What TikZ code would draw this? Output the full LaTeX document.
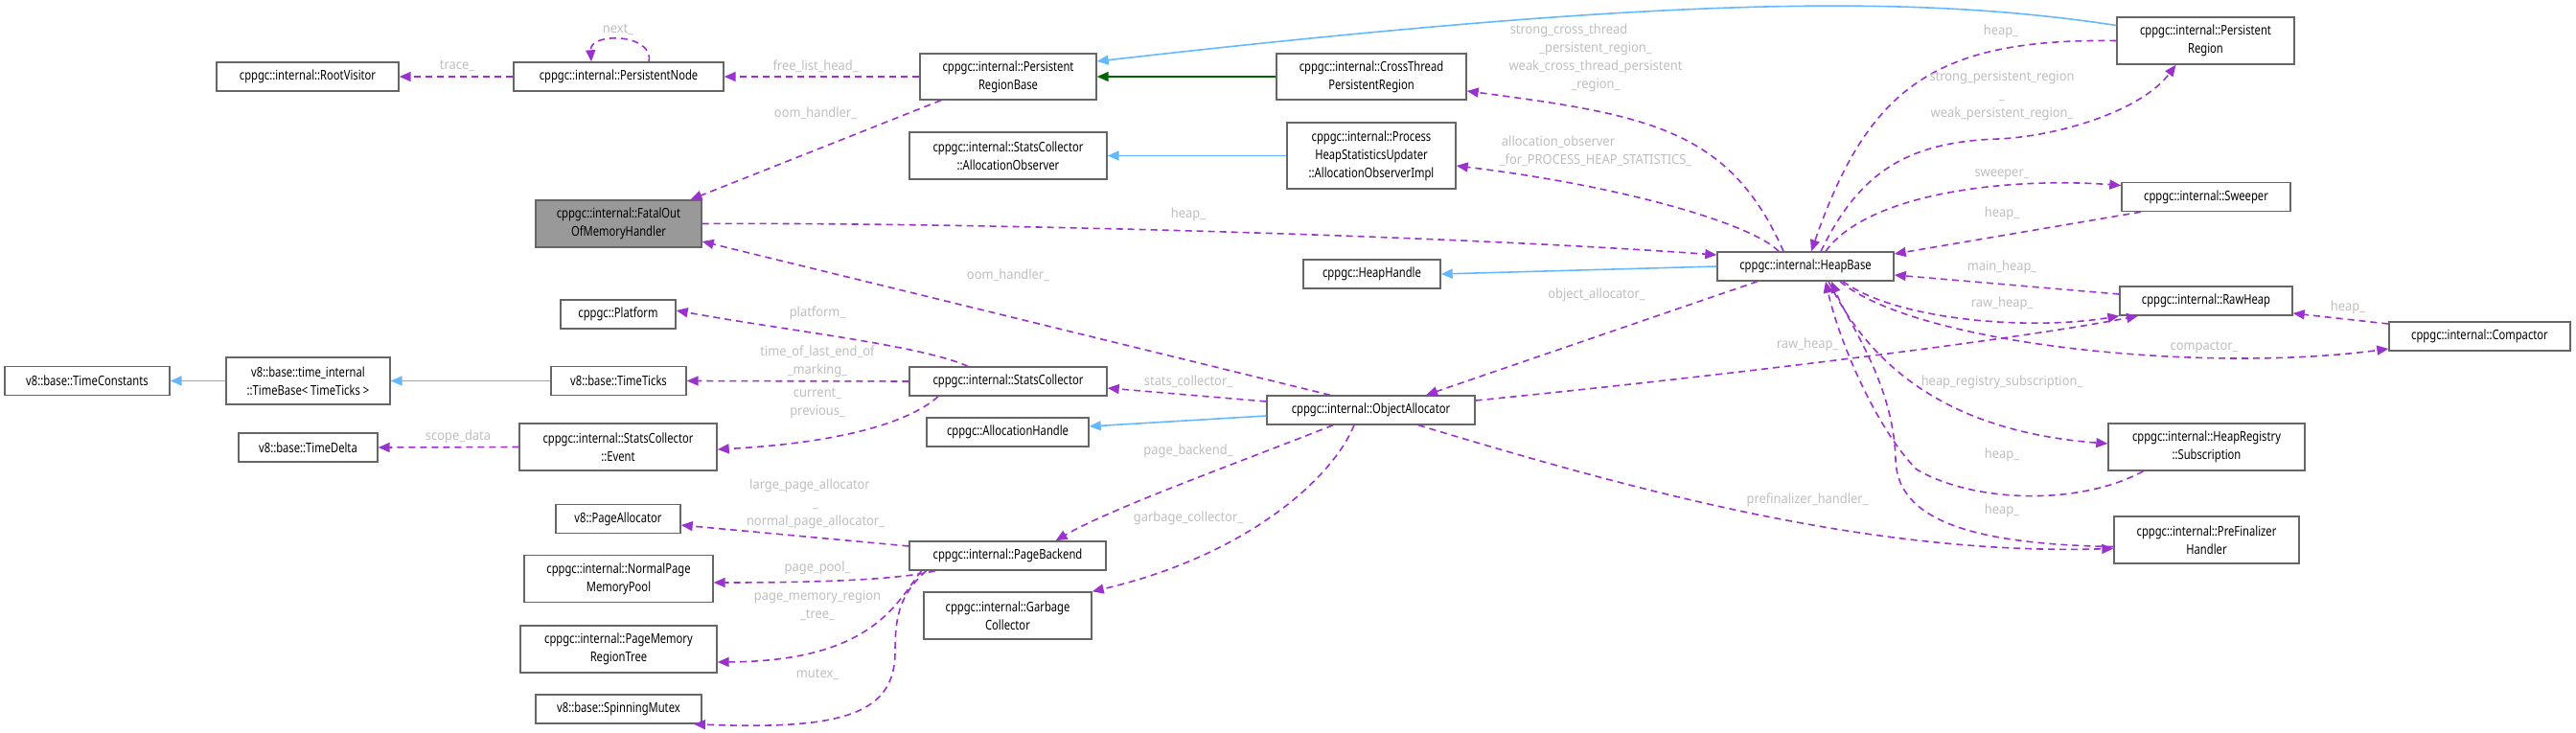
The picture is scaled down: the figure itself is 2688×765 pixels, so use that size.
\documentclass[tikz,border=0pt]{standalone}
\usepackage{fontspec}
\setmainfont{Noto Sans}[FakeStretch=0.8]
\newfontfamily\lblfont{Noto Sans}[FakeStretch=0.92]
\usetikzlibrary{arrows.meta,calc}
\definecolor{edgepurple}{HTML}{9A32CD}
\definecolor{edgeblue}{HTML}{63B8FF}
\definecolor{edgegreen}{HTML}{006400}
\definecolor{labelgray}{HTML}{BEBEBE}
\definecolor{boxborder}{HTML}{666666}
\definecolor{boxfill}{HTML}{999999}
\begin{document}
\begin{tikzpicture}[x=1pt,y=-1pt,
  box/.style={draw=boxborder,line width=1.4pt,fill=white,inner sep=0pt,align=center,
    font=\fontsize{14}{19}\selectfont,text=black},
  lbl/.style={text=labelgray,inner sep=0pt,align=center,font=\lblfont\fontsize{14}{19}\selectfont},
  uses/.style={draw=edgepurple,line width=1.6pt,dash pattern=on 7pt off 5pt,
    -{Triangle[length=12pt,width=10pt]},fill=none},
  inherit/.style={draw=edgeblue,line width=1.6pt,-{Triangle[length=12pt,width=10pt]}},
  inheritg/.style={draw=edgegreen,line width=1.6pt,-{Triangle[length=12pt,width=10pt]}}]
\useasboundingbox (0,0) rectangle (2688,765);

% nodes
\node[box,minimum width=190pt,minimum height=30pt] (RV) at (321,80) {cppgc::internal::RootVisitor};
\node[box,minimum width=219pt,minimum height=30pt] (PN) at (645.5,80) {cppgc::internal::PersistentNode};
\node[box,minimum width=184pt,minimum height=48pt] (PRB) at (1052,80) {cppgc::internal::Persistent\\RegionBase};
\node[box,minimum width=198pt,minimum height=48pt] (CT) at (1431,80) {cppgc::internal::CrossThread\\PersistentRegion};
\node[box,minimum width=185pt,minimum height=49pt] (PR) at (2301.5,42.5) {cppgc::internal::Persistent\\Region};
\node[box,fill=boxfill,minimum width=173pt,minimum height=49pt] (FO) at (645.5,233.5) {cppgc::internal::FatalOut\\OfMemoryHandler};
\node[box,minimum width=206pt,minimum height=49pt] (AO) at (1052,162.5) {cppgc::internal::StatsCollector\\::AllocationObserver};
\node[box,minimum width=176pt,minimum height=69pt] (AOI) at (1431,162.5) {cppgc::internal::Process\\HeapStatisticsUpdater\\::AllocationObserverImpl};
\node[box,minimum width=184pt,minimum height=30pt] (HB) at (1884,278) {cppgc::internal::HeapBase};
\node[box,minimum width=176pt,minimum height=30pt] (SW) at (2302,205.5) {cppgc::internal::Sweeper};
\node[box,minimum width=143pt,minimum height=30pt] (HH) at (1431.5,286) {cppgc::HeapHandle};
\node[box,minimum width=180pt,minimum height=30pt] (RH) at (2302,314) {cppgc::internal::RawHeap};
\node[box,minimum width=189pt,minimum height=30pt] (CP) at (2587.5,351) {cppgc::internal::Compactor};
\node[box,minimum width=120pt,minimum height=30pt] (PF) at (645,328) {cppgc::Platform};
\node[box,minimum width=172pt,minimum height=30pt] (TC) at (91,397.5) {v8::base::TimeConstants};
\node[box,minimum width=171pt,minimum height=49pt] (TB) at (321.5,397.5) {v8::base::time\_internal\\::TimeBase< TimeTicks >};
\node[box,minimum width=141pt,minimum height=30pt] (TT) at (645.5,397.5) {v8::base::TimeTicks};
\node[box,minimum width=206pt,minimum height=30pt] (SC) at (1052,398) {cppgc::internal::StatsCollector};
\node[box,minimum width=217pt,minimum height=30pt] (OA) at (1430.5,428) {cppgc::internal::ObjectAllocator};
\node[box,minimum width=169pt,minimum height=30pt] (AH) at (1051.5,451) {cppgc::AllocationHandle};
\node[box,minimum width=206pt,minimum height=49pt] (EV) at (645,466.5) {cppgc::internal::StatsCollector\\::Event};
\node[box,minimum width=145pt,minimum height=30pt] (TD) at (321.5,467) {v8::base::TimeDelta};
\node[box,minimum width=205pt,minimum height=49pt] (SUB) at (2302.5,466.5) {cppgc::internal::HeapRegistry\\::Subscription};
\node[box,minimum width=130pt,minimum height=30pt] (PA) at (645,541.5) {v8::PageAllocator};
\node[box,minimum width=205pt,minimum height=30pt] (PB) at (1051.5,580) {cppgc::internal::PageBackend};
\node[box,minimum width=197pt,minimum height=49pt] (NPM) at (645.5,604) {cppgc::internal::NormalPage\\MemoryPool};
\node[box,minimum width=175pt,minimum height=49pt] (GC) at (1051.5,642.5) {cppgc::internal::Garbage\\Collector};
\node[box,minimum width=193pt,minimum height=49pt] (PFH) at (2302.5,563.5) {cppgc::internal::PreFinalizer\\Handler};
\node[box,minimum width=205pt,minimum height=49pt] (PMR) at (645.5,677.5) {cppgc::internal::PageMemory\\RegionTree};
\node[box,minimum width=173pt,minimum height=30pt] (SM) at (645.5,740) {v8::base::SpinningMutex};

% inheritance edges
\draw[inheritg] (CT.west) -- (PRB.east);
\draw[inherit] ($(PR.west)+(0,-16)$) .. controls (2000,-5) and (1750,-5) .. ($(PRB.east)+(0,-16)$);
\draw[inherit] (AOI.west) -- (AO.east);
\draw[inherit] (HB.west) -- (HH.east);
\draw[inherit] ($(OA.west)+(0,6)$) -- ($(AH.east)+(0,-6)$);
\draw[inherit] (TT.west) -- (TB.east);
\draw[inherit] (TB.west) -- (TC.east);

% usage edges
\draw[uses] (PN.west) -- (RV.east);
\draw[uses] ($(PN.north)+(31.5,0)$) .. controls (683,35) and (615,33) .. ($(PN.north)+(-28.5,0)$);
\draw[uses] (PRB.west) -- (PN.east);
\draw[uses] ($(PRB.south)+(-70,0)$) -- ($(FO.north)+(75,0)$);
\draw[uses] ($(HB.north)+(-23,0)$) .. controls (1805,135) and (1720,120) .. ($(CT.east)+(0,15)$);
\draw[uses] ($(HB.north)+(-28,0)$) .. controls (1830,235) and (1700,195) .. ($(AOI.east)+(0,10.5)$);
\draw[uses] (FO.east) .. controls (1000,232) and (1500,245) .. ($(HB.west)+(0,-12)$);
\draw[uses] (PR.west) .. controls (2020,40) and (1950,90) .. ($(HB.north)+(6,0)$);
\draw[uses] ($(HB.north)+(16,0)$) .. controls (1940,180) and (1990,148) .. (2085,145)
   .. controls (2150,142) and (2235,115) .. ($(PR.south)+(-31,0)$);
\draw[uses] ($(HB.north)+(21,0)$) .. controls (1950,200) and (2100,185) .. ($(SW.west)+(0,-12)$);
\draw[uses] ($(SW.south)+(-68,0)$) -- ($(HB.east)+(0,-13)$);
\draw[uses] ($(RH.west)+(0,-7)$) -- ($(HB.east)+(0,9)$);
\draw[uses] ($(HB.south)+(39,0)$) .. controls (1980,335) and (2120,345) .. (RH.south west);
\draw[uses] ($(OA.east)+(0,-10)$) .. controls (1800,392) and (2100,355) .. ($(RH.south)+(-71,0)$);
\draw[uses] ($(CP.west)+(0,-13)$) -- ($(RH.east)+(0,13)$);
\draw[uses] ($(HB.south)+(36,0)$) .. controls (2000,360) and (2300,390) .. ($(CP.west)+(0,13)$);
\draw[uses] ($(HB.south)+(24,0)$) .. controls (1950,380) and (2030,450) .. ($(SUB.west)+(0,-3.5)$);
\draw[uses] ($(SUB.south)+(-66,0)$) .. controls (2170,528) and (2060,525) .. (2000,490)
   .. controls (1960,450) and (1920,360) .. ($(HB.south)+(21,0)$);
\draw[uses] ($(PFH.west)+(0,7)$) .. controls (2050,568) and (1980,540) .. (1978,480)
   .. controls (1976,400) and (1930,340) .. ($(HB.south)+(27,0)$);
\draw[uses] ($(OA.south)+(49.5,0)$) .. controls (1700,510) and (1950,580) .. ($(PFH.west)+(0,9)$);
\draw[uses] ($(HB.south)+(-50,0)$) -- ($(OA.north)+(57.5,0)$);
\draw[uses] ($(OA.north)+(-42.5,0)$) -- ($(FO.east)+(0,18.5)$);
\draw[uses] ($(OA.west)+(0,-9)$) -- ($(SC.east)+(0,7)$);
\draw[uses] ($(OA.south)+(-39.5,0)$) .. controls (1300,480) and (1160,530) .. ($(PB.north)+(50,0)$);
\draw[uses] ($(OA.south)+(-17.5,0)$) .. controls (1390,500) and (1300,580) .. (GC.north east);
\draw[uses] ($(SC.north)+(-42,0)$) .. controls (960,360) and (820,345) .. ($(PF.east)+(0,-4)$);
\draw[uses] (SC.west) -- (TT.east);
\draw[uses] ($(SC.south)+(-73,0)$) .. controls (950,440) and (880,462) .. ($(EV.east)+(0,2.5)$);
\draw[uses] (EV.west) -- (TD.east);
\draw[uses] ($(PB.west)+(0,-10)$) -- ($(PA.east)+(0,6.5)$);
\draw[uses] ($(PB.south)+(-75.5,0)$) .. controls (930,607) and (820,608) .. ($(NPM.east)+(0,4)$);
\draw[uses] ($(PB.south)+(-90,0)$) .. controls (935,630) and (910,690) .. ($(PMR.east)+(0,13.5)$);
\draw[uses] ($(PB.south)+(-85,0)$) .. controls (940,620) and (934,640) .. (934,680)
   .. controls (934,745) and (880,762) .. ($(SM.south)+(78.5,0)$);

% labels
\node[lbl] (l1) at (477,69) {trace\_};
\node[lbl] (l2) at (645,31) {next\_};
\node[lbl] (l3) at (851,69) {free\_list\_head\_};
\node[lbl] (l4) at (851,118) {oom\_handler\_};
\node[lbl] (l5) at (1665,60.5) {strong\_cross\_thread\hspace*{56pt}\\\_persistent\_region\_\\weak\_cross\_thread\_persistent\\\_region\_};
\node[lbl] (l6) at (1665,158) {allocation\_observer\hspace*{78pt}\\\_for\_PROCESS\_HEAP\_STATISTICS\_};
\node[lbl] (l7) at (1240,224) {heap\_};
\node[lbl] (l8) at (2088,33) {heap\_};
\node[lbl] (l9) at (2089,100) {strong\_persistent\_region\\\_\\weak\_persistent\_region\_};
\node[lbl] (l10) at (2089,182) {sweeper\_};
\node[lbl] (l11) at (2089,223) {heap\_};
\node[lbl] (l12) at (2089,279) {main\_heap\_};
\node[lbl] (l13) at (2089,317) {raw\_heap\_};
\node[lbl] (l14) at (1886,360) {raw\_heap\_};
\node[lbl] (l15) at (2450,321) {heap\_};
\node[lbl] (l16) at (2300,363) {compactor\_};
\node[lbl] (l17) at (2089,399) {heap\_registry\_subscription\_};
\node[lbl] (l18) at (2089,475) {heap\_};
\node[lbl] (l19) at (2089,533) {heap\_};
\node[lbl] (l20) at (1886,522) {prefinalizer\_handler\_};
\node[lbl] (l21) at (1666,308) {object\_allocator\_};
\node[lbl] (l22) at (1052,287) {oom\_handler\_};
\node[lbl] (l23) at (1240,398) {stats\_collector\_};
\node[lbl] (l24) at (1240,471) {page\_backend\_};
\node[lbl] (l25) at (1240,541) {garbage\_collector\_};
\node[lbl] (l26) at (853,327) {platform\_};
\node[lbl] (l27) at (853,377.5) {time\_of\_last\_end\_of\\\_marking\_};
\node[lbl] (l28) at (853,421) {current\_\\previous\_};
\node[lbl] (l29) at (478,456) {scope\_data};
\node[lbl] (l30) at (851,526) {large\_page\_allocator\hspace*{12pt}\\\_\\normal\_page\_allocator\_};
\node[lbl] (l31) at (853,593) {page\_pool\_};
\node[lbl] (l32) at (853,631.5) {page\_memory\_region\\\_tree\_};
\node[lbl] (l33) at (853,704) {mutex\_};
\end{tikzpicture}
\end{document}
